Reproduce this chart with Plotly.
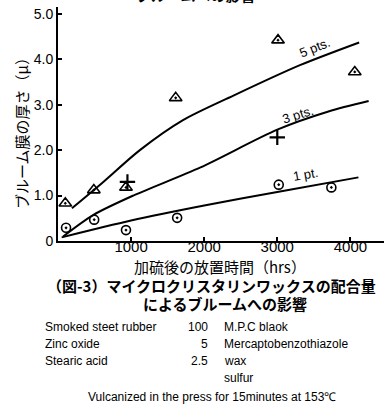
import plotly.graph_objects as go

# ---- data ----
tri_x = [100, 490, 930, 1610, 3010, 4060]          # 5 pts. (triangles)
tri_y = [0.83, 1.12, 1.18, 3.15, 4.42, 3.72]
plus_x = [950, 3000]                               # 3 pts. (crosses)
plus_y = [1.30, 2.28]
circ_x = [110, 495, 930, 1630, 3020, 3740]         # 1 pt. (circles)
circ_y = [0.29, 0.47, 0.24, 0.51, 1.24, 1.18]

c5_x = [190, 620, 1120, 1710, 2400, 3310, 4120]
c5_y = [0.72, 1.30, 2.00, 2.66, 3.20, 3.87, 4.37]
c3_x = [70, 480, 1030, 1950, 3000, 3700, 4250]
c3_y = [0.10, 0.57, 1.00, 1.62, 2.45, 2.85, 3.08]
c1_x = [50, 1000, 2000, 3000, 4110]
c1_y = [0.08, 0.45, 0.78, 1.08, 1.40]

curve_labels = ["5 pts.", "3 pts.", "1 pt."]
label_x = [3520, 3290, 3380]
label_y = [4.25, 2.78, 1.46]
label_angle = [-22, -17, -10]

y_ticks = [0, 1, 2, 3, 4, 5]
y_ticktext = ["0", "1.0", "2.0", "3.0", "4.0", "5.0"]
x_ticks = [1000, 2000, 3000, 4000]

y_title = "ブルーム膜の厚さ（μ）"
x_title = "加硫後の放置時間（hrs）"
caption1 = "（図-3）マイクロクリスタリンワックスの配合量"
caption2 = "によるブルームへの影響"
prev_caption = "ブルームへの影響"
recipe_names = ["Smoked steet rubber", "Zinc oxide", "Stearic acid", ""]
recipe_amounts = ["100", "5", "2.5", ""]
recipe_right = ["M.P.C blaok", "Mercaptobenzothiazole", "wax", "sulfur"]
footnote = "Vulcanized in the press for 15minutes at 153℃"

JP = "Noto Sans CJK JP"
EN = "Liberation Sans, Arial, sans-serif"

fig = go.Figure()
for cx, cy in [(c5_x, c5_y), (c3_x, c3_y), (c1_x, c1_y)]:
    fig.add_trace(go.Scatter(x=cx, y=cy, mode="lines",
                             line=dict(color="black", width=2, shape="spline", smoothing=0.8),
                             hoverinfo="skip"))
fig.add_trace(go.Scatter(x=tri_x, y=tri_y, mode="markers",
                         marker=dict(symbol="triangle-up-open-dot", size=11, color="black",
                                     line=dict(width=1.6, color="black"))))
fig.add_trace(go.Scatter(x=plus_x, y=plus_y, mode="markers",
                         marker=dict(symbol="cross-thin-open", size=11, color="black",
                                     line=dict(width=2.2, color="black"))))
fig.add_trace(go.Scatter(x=circ_x, y=circ_y, mode="markers",
                         marker=dict(symbol="circle-open-dot", size=9, color="black",
                                     line=dict(width=1.6, color="black"))))

ann = []
for t, lx, ly, a in zip(curve_labels, label_x, label_y, label_angle):
    ann.append(dict(x=lx, y=ly, xref="x", yref="y", text=t, showarrow=False,
                    xanchor="center", yanchor="middle",
                    textangle=a, font=dict(family=EN, size=13, color="black")))

W, H = 386, 407
L, T, R, B = 58, 7, 2, 166
pw, ph = W - L - R, H - T - B


def px(xp):
    return (xp - L) / pw


def py(yp):
    return (H - B - yp) / ph


def txt(xp, yp, text, family, size, xanchor="center", angle=0):
    return dict(x=px(xp), y=py(yp), xref="paper", yref="paper", text=text,
                xanchor=xanchor, yanchor="middle", textangle=angle, showarrow=False,
                font=dict(family=family, size=size, color="black"))


ann.append(txt(21, 130, y_title, JP, 15, angle=-90))
ann.append(txt(220, 266, x_title, JP, 15))
ann.append(txt(211, 285, "<b>" + caption1 + "</b>", JP, 15))
ann.append(txt(225, 303, "<b>" + caption2 + "</b>", JP, 15))
ann.append(txt(196, -5, "<b>" + prev_caption + "</b>", JP, 15))

row_y = [327, 344, 361, 378]
for n, a, r, ry in zip(recipe_names, recipe_amounts, recipe_right, row_y):
    if n:
        ann.append(txt(43, ry, n, EN, 12, xanchor="left"))
    if a:
        ann.append(txt(210, ry, a, EN, 12, xanchor="right"))
    ann.append(txt(222, ry, r, EN, 12, xanchor="left"))
ann.append(txt(212, 397, footnote, EN, 12))

fig.update_layout(
    template="none",
    width=W, height=H, margin=dict(l=L, r=R, t=T, b=B, autoexpand=False),
    paper_bgcolor="white", plot_bgcolor="white", showlegend=False,
    annotations=ann,
    xaxis=dict(range=[0, 4460], tickvals=x_ticks, ticks="inside", ticklen=4, tickwidth=1.5,
               tickcolor="black", showline=True, linecolor="black", linewidth=2,
               showgrid=False, zeroline=False, automargin=False, ticklabelstandoff=-9,
               tickfont=dict(family=EN, size=15, color="black")),
    yaxis=dict(range=[0, 5.15], tickvals=y_ticks, ticktext=y_ticktext, ticks="inside",
               ticklen=4, tickwidth=1.5, tickcolor="black", showline=True, linecolor="black",
               linewidth=2, showgrid=False, zeroline=False, automargin=False,
               tickfont=dict(family=EN, size=14, color="black")),
)
fig.write_html("out.html", config={"displayModeBar": False},
               post_script="document.body.style.margin='0';")
